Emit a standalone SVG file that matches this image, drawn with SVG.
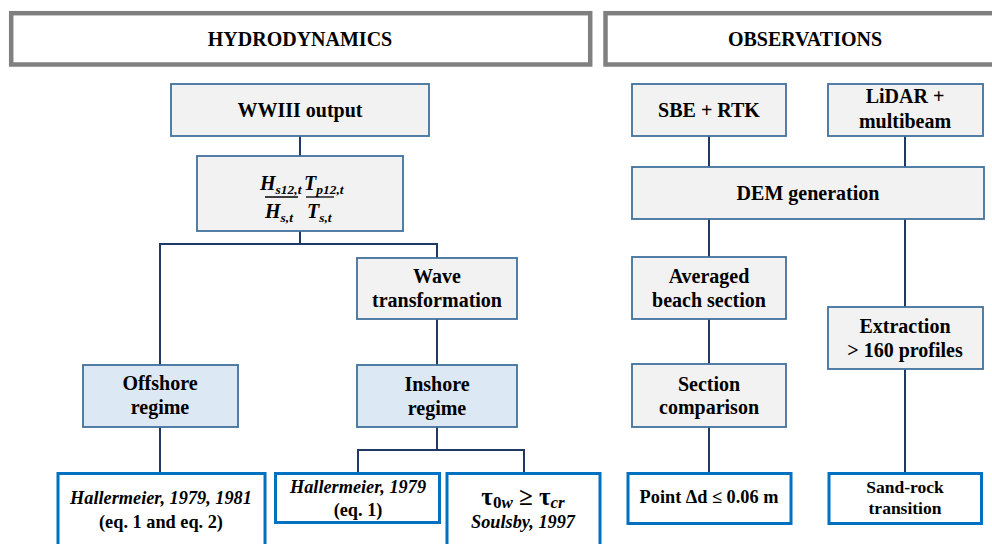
<svg xmlns="http://www.w3.org/2000/svg" width="992" height="544" viewBox="0 0 992 544">
<style>
.hdr{fill:#fff;stroke:#808080;stroke-width:4.5}
.node{fill:#f2f2f2;stroke:#41719c;stroke-width:1.8}
.reg{fill:#dde8f5;stroke:#41719c;stroke-width:1.8}
.leaf{fill:#fff;stroke:#0070c0;stroke-width:3}
.con{fill:none;stroke:#1f3864;stroke-width:2}
text{font-family:"Liberation Serif","Times New Roman",serif;font-weight:bold;fill:#000;text-anchor:middle}
.t{font-size:20px}
.l{font-size:18.3px}
.h{font-size:20px}
.i{font-style:italic}
.s{text-anchor:start}
</style>
<rect width="992" height="544" fill="#fff"/>
<g id="connectors">
<path class="con" d="M300,136V156"/>
<path class="con" d="M300,231V244"/>
<path class="con" d="M160,365V244H437V258"/>
<path class="con" d="M437,319V365"/>
<path class="con" d="M160,427V472"/>
<path class="con" d="M437,427V450"/>
<path class="con" d="M358,472V450H524V472"/>
<path class="con" d="M709,136V167"/>
<path class="con" d="M905,136V167"/>
<path class="con" d="M709,219V257"/>
<path class="con" d="M709,319V364"/>
<path class="con" d="M709,427V472"/>
<path class="con" d="M905,219V307"/>
<path class="con" d="M905,369V472"/>
</g>
<g id="hydrodynamics">
<rect class="hdr" x="11.2" y="13.2" width="579" height="51.3"/>
<text class="h" x="300" y="46">HYDRODYNAMICS</text>
</g>
<g id="observations">
<rect class="hdr" x="605.5" y="13.2" width="400" height="51.3"/>
<text class="h" x="805" y="46">OBSERVATIONS</text>
</g>
<g id="wwiii">
<rect class="node" x="171" y="84" width="258" height="52"/>
<text class="t" x="300" y="117">WWIII output</text>
</g>
<g id="ratios">
<rect class="node" x="197" y="156" width="206" height="75"/>
<text class="t i s" x="260" y="190">H<tspan font-size="13.5" dy="4">s12,t</tspan></text>
<text class="t i s" x="304" y="190">T<tspan font-size="13.5" dy="4">p12,t</tspan></text>
<line x1="265" y1="197" x2="298" y2="197" stroke="#000" stroke-width="1.3"/>
<line x1="306" y1="197" x2="334" y2="197" stroke="#000" stroke-width="1.3"/>
<text class="t i s" x="265" y="218">H<tspan font-size="13.5" dy="4">s,t</tspan></text>
<text class="t i s" x="307" y="218">T<tspan font-size="13.5" dy="4">s,t</tspan></text>
</g>
<g id="wave">
<rect class="node" x="357" y="258" width="160" height="61"/>
<text class="t" x="437" y="283">Wave</text>
<text class="t" x="437" y="307">transformation</text>
</g>
<g id="offshore">
<rect class="reg" x="83" y="365" width="155" height="62"/>
<text class="t" x="160" y="390">Offshore</text>
<text class="t" x="160" y="414">regime</text>
</g>
<g id="inshore">
<rect class="reg" x="357" y="365" width="160" height="62"/>
<text class="t" x="437" y="391">Inshore</text>
<text class="t" x="437" y="415">regime</text>
</g>
<g id="hall1">
<rect class="leaf" x="58" y="473.5" width="207" height="80"/>
<text class="l i" x="161" y="504">Hallermeier, 1979, 1981</text>
<text class="l" x="161" y="528">(eq. 1 and eq. 2)</text>
</g>
<g id="hall2">
<rect class="leaf" x="275.5" y="473.5" width="164" height="49"/>
<text class="l i" x="358" y="493">Hallermeier, 1979</text>
<text class="l" x="358" y="516">(eq. 1)</text>
</g>
<g id="soulsby">
<rect class="leaf" x="447" y="473.5" width="153" height="80"/>
<text x="523" y="505" font-size="25">τ<tspan font-size="17" dy="3">0<tspan font-style="italic">w</tspan></tspan><tspan dy="-3"> ≥ τ</tspan><tspan font-size="17" dy="3" font-style="italic">cr</tspan></text>
<text class="l i" x="523" y="528">Soulsby, 1997</text>
</g>
<g id="sbe">
<rect class="node" x="632" y="84" width="154" height="52"/>
<text class="t" x="709" y="117">SBE + RTK</text>
</g>
<g id="lidar">
<rect class="node" x="828" y="84" width="155" height="52"/>
<text class="t" x="905" y="103">LiDAR +</text>
<text class="t" x="905" y="128">multibeam</text>
</g>
<g id="dem">
<rect class="node" x="632" y="167" width="352" height="52"/>
<text class="t" x="808" y="200">DEM generation</text>
</g>
<g id="averaged">
<rect class="node" x="632" y="257" width="154" height="62"/>
<text class="t" x="709" y="283">Averaged</text>
<text class="t" x="709" y="307">beach section</text>
</g>
<g id="extraction">
<rect class="node" x="828" y="307" width="155" height="62"/>
<text class="t" x="905" y="333">Extraction</text>
<text class="t" x="905" y="357">&gt; 160 profiles</text>
</g>
<g id="comparison">
<rect class="node" x="632" y="364" width="154" height="63"/>
<text class="t" x="709" y="391">Section</text>
<text class="t" x="709" y="414">comparison</text>
</g>
<g id="point">
<rect class="leaf" x="628" y="473.5" width="163" height="50"/>
<text class="l" x="709" y="503">Point Δd ≤ 0.06 m</text>
</g>
<g id="sandrock">
<rect class="leaf" x="829" y="473.5" width="152.5" height="50"/>
<text x="905" y="493" font-size="17.5">Sand-rock</text>
<text x="905" y="514" font-size="17.5">transition</text>
</g>
</svg>
